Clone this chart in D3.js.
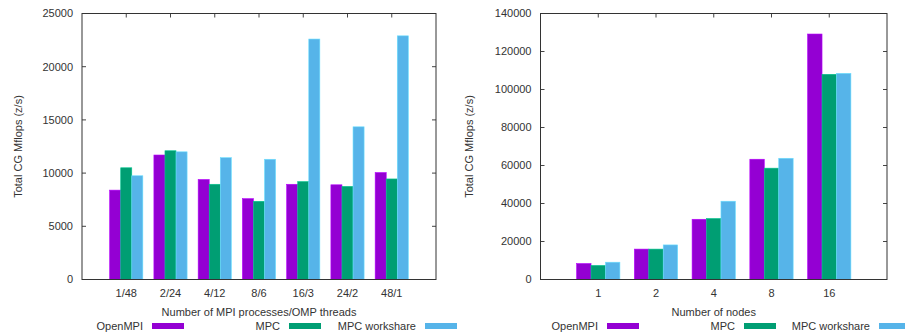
<!DOCTYPE html>
<html>
<head>
<meta charset="utf-8">
<script src="https://cdn.jsdelivr.net/npm/d3@7"></script>
<style>
  body { margin: 0; background: #fff; }
  svg text { font-family: "Liberation Sans", Arial, sans-serif; font-size: 11px; fill: #333; }
</style>
</head>
<body>
<svg width="905" height="335"></svg>
<script>
const series = ["OpenMPI", "MPC", "MPC workshare"];
const colors = ["#9400d3", "#009e73", "#56b4e9"];

// left chart: MPI processes / OMP threads
const hybridLabels = ["1/48", "2/24", "4/12", "8/6", "16/3", "24/2", "48/1"];
const hybridOpenMPI = [8400, 11700, 9400, 7600, 8950, 8900, 10050];
const hybridMPC = [10500, 12100, 8950, 7350, 9200, 8750, 9450];
const hybridWorkshare = [9750, 12000, 11450, 11300, 22600, 14350, 22900];
const hybridTicks = [0, 5000, 10000, 15000, 20000, 25000];

// right chart: number of nodes
const nodeLabels = ["1", "2", "4", "8", "16"];
const nodeOpenMPI = [8400, 16000, 31700, 63300, 129200];
const nodeMPC = [7400, 16000, 32100, 58600, 108000];
const nodeWorkshare = [9100, 18200, 41200, 63800, 108500];
const nodeTicks = [0, 20000, 40000, 60000, 80000, 100000, 120000, 140000];

const svg = d3.select("svg");

function drawChart(opt) {
  const { left, right, top, bottom } = opt;
  const g = svg.append("g");
  const n = opt.labels.length;

  const x = d3.scaleLinear().domain([-1, n]).range([left, right]);
  const y = d3.scaleLinear().domain([0, d3.max(opt.ticks)]).range([bottom, top]);

  // y ticks + labels
  opt.ticks.forEach(t => {
    g.append("line").attr("x1", left).attr("x2", left + 4).attr("y1", y(t)).attr("y2", y(t)).attr("stroke", "#444");
    g.append("line").attr("x1", right).attr("x2", right - 4).attr("y1", y(t)).attr("y2", y(t)).attr("stroke", "#444");
    g.append("text").attr("x", left - 9).attr("y", y(t)).attr("dy", "0.35em").attr("text-anchor", "end").text(t);
  });

  // x ticks (top mirrored) + labels
  opt.labels.forEach((lab, i) => {
    g.append("line").attr("x1", x(i)).attr("x2", x(i)).attr("y1", top).attr("y2", top + 4).attr("stroke", "#444");
    g.append("line").attr("x1", x(i)).attr("x2", x(i)).attr("y1", bottom).attr("y2", bottom - 4).attr("stroke", "#444");
    g.append("text").attr("x", x(i)).attr("y", 293).attr("dy", "0.35em").attr("text-anchor", "middle").text(lab);
  });

  // bars
  const bw = 0.25;
  opt.values.forEach((vals, s) => {
    g.selectAll(null)
      .data(vals)
      .enter()
      .append("rect")
      .attr("x", (d, i) => x(i + (s - 1) * bw - bw / 2))
      .attr("width", x(bw) - x(0))
      .attr("y", d => y(d))
      .attr("height", d => y(0) - y(d))
      .attr("fill", colors[s])
      .attr("stroke", d3.color(colors[s]).brighter(0.6))
      .attr("stroke-width", 0.6);
  });

  // frame
  g.append("rect")
    .attr("x", left).attr("y", top)
    .attr("width", right - left).attr("height", bottom - top)
    .attr("fill", "none").attr("stroke", "#333").attr("stroke-width", 1);

  // axis titles
  g.append("text")
    .attr("transform", `translate(${opt.ylabX},${(top + bottom) / 2}) rotate(-90)`)
    .attr("dy", "0.35em")
    .attr("text-anchor", "middle")
    .text("Total CG Mflops (z/s)");
  g.append("text")
    .attr("x", (left + right) / 2).attr("y", 312)
    .attr("dy", "0.35em")
    .attr("text-anchor", "middle")
    .text(opt.xTitle);

  // legend
  series.forEach((name, s) => {
    const lx = opt.legendX[s];
    g.append("text").attr("x", lx).attr("y", 326).attr("dy", "0.35em").attr("text-anchor", "end").text(name);
    g.append("rect").attr("x", lx + 9).attr("y", 323).attr("width", 32).attr("height", 6).attr("fill", colors[s]);
  });
}

drawChart({
  left: 82, right: 436, top: 13.5, bottom: 279.5,
  labels: hybridLabels,
  values: [hybridOpenMPI, hybridMPC, hybridWorkshare],
  ticks: hybridTicks,
  xTitle: "Number of MPI processes/OMP threads",
  ylabX: 18.5,
  legendX: [143, 280, 416]
});

drawChart({
  left: 540.5, right: 887, top: 13.5, bottom: 279.5,
  labels: nodeLabels,
  values: [nodeOpenMPI, nodeMPC, nodeWorkshare],
  ticks: nodeTicks,
  xTitle: "Number of nodes",
  ylabX: 469.5,
  legendX: [598, 735, 870]
});
</script>
</body>
</html>
